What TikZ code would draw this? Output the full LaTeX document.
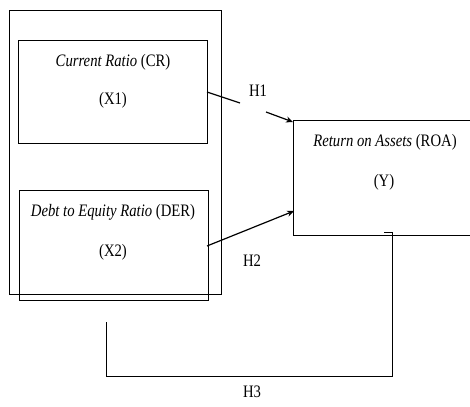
\documentclass[tikz,border=0pt]{standalone}
\usepackage{fontspec}
\setmainfont{Liberation Serif}[FakeStretch=0.84]
\usetikzlibrary{arrows.meta}
\begin{document}
\begin{tikzpicture}[x=1pt,y=-1pt,
  box/.style={draw,line width=0.75pt},
  lbl/.style={font=\fontsize{17.5}{20}\selectfont,inner sep=0pt},
  conn/.style={line width=1.2pt},
  tip/.style={-{Stealth[length=7pt,width=6pt]}}]
\useasboundingbox (0,0) rectangle (470,406);
% outer group
\draw[line width=0.9pt] (9,10) rectangle (221,294);
% boxes
\draw[box,fill=white] (18,40) rectangle (207,143);
\node[lbl] (cr1) at (113,62) {\textit{Current Ratio} (CR)};
\node[lbl] (cr2) at (113,100) {(X1)};
\draw[box] (19,190) rectangle (208,300);
\node[lbl] (der1) at (113,212) {\textit{Debt to Equity Ratio} (DER)};
\node[lbl] (der2) at (113,252) {(X2)};
\draw[box] (293,120) rectangle (470,235);
\node[lbl] (roa1) at (385,142) {\textit{Return on Assets} (ROA)};
\node[lbl] (roa2) at (384,182) {(Y)};
% named points
\coordinate (crE) at (207,92);
\coordinate (h1a) at (240,103);
\coordinate (h1b) at (266,112);
\coordinate (roaA) at (293,122);
\coordinate (derE) at (207,246);
\coordinate (roaB) at (294,211);
% connectors
\draw[conn] (crE) -- (h1a);
\draw[conn,tip] (h1b) -- (roaA);
\draw[conn,tip] (derE) -- (roaB);
\coordinate (h3s) at (106,322);
\coordinate (h3c1) at (106,376);
\coordinate (h3c2) at (392,376);
\coordinate (h3e) at (392,232);
\coordinate (h3t) at (384,232);
\draw[line width=0.75pt] (h3s) -- (h3c1) -- (h3c2) -- (h3e) -- (h3t);
% labels
\node[lbl] (H1) at (258,91) {H1};
\node[lbl] (H2) at (252,261) {H2};
\node[lbl] (H3) at (252,392) {H3};
\end{tikzpicture}
\end{document}
